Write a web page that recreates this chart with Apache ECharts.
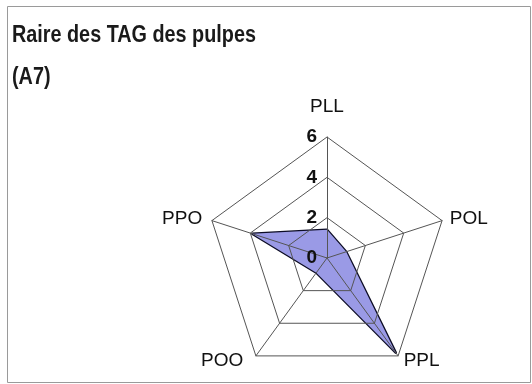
<!DOCTYPE html>
<html>
<head>
<meta charset="utf-8">
<script src="https://cdn.jsdelivr.net/npm/echarts@6/dist/echarts.min.js"></script>
<style>html,body{margin:0;padding:0;background:#fff}#c{width:532px;height:384px}</style>
</head>
<body>
<div id="c"></div>
<script>
// Indicators in ECharts (counter-clockwise) order starting at top
const indicatorNames = ['PLL', 'PPO', 'POO', 'PPL', 'POL'];
const values = [1.4, 3.9, 0.9, 5.8, 1.0];
const axisMax = 6;
const tickInterval = 2;
const titleLines = ['Raire des TAG des pulpes', '(A7)'];

// per-indicator label tweaks (style only)
const namePad = {
  PLL: [0, 0, 15, 0],
  PPO: [0, 4, 2, 0],
  POO: [0, 9, 10, 0],
  PPL: [0, 0, 10, 2],
  POL: [0, 0, 2, 2]
};

const titleFont = 'bold 24px "Liberation Sans", Arial, sans-serif';

const chart = echarts.init(document.getElementById('c'));
chart.setOption({
  animation: false,
  backgroundColor: '#ffffff',
  graphic: [{
    type: 'rect',
    shape: { x: 7.5, y: 6.5, width: 523, height: 376 },
    style: { fill: 'none', stroke: '#9a9a9a', lineWidth: 1 },
    silent: true
  }, {
    type: 'text',
    x: 12, y: 23,
    scaleX: 0.825,
    style: { text: titleLines[0], font: titleFont, fill: '#1a1a1a', verticalAlign: 'top' },
    silent: true
  }, {
    type: 'text',
    x: 12, y: 65,
    scaleX: 0.825,
    style: { text: titleLines[1], font: titleFont, fill: '#1a1a1a', verticalAlign: 'top' },
    silent: true
  }],
  radar: {
    z: 3,
    center: [327, 258],
    radius: 121,
    startAngle: 90,
    splitNumber: axisMax / tickInterval,
    shape: 'polygon',
    axisNameGap: 6,
    axisName: {
      color: '#111',
      fontFamily: '"Liberation Sans", Arial, sans-serif',
      fontSize: 19
    },
    indicator: indicatorNames.map((n, i) => ({
      name: n,
      min: 0,
      max: axisMax,
      nameTextStyle: { padding: namePad[n] },
      axisLabel: { show: i === 0 }
    })),
    axisLine: { lineStyle: { color: '#555', width: 1 } },
    splitLine: { lineStyle: { color: '#555', width: 1 } },
    splitArea: { show: false },
    axisTick: { show: false },
    axisLabel: {
      show: true,
      color: '#111',
      fontWeight: 'bold',
      fontSize: 19,
      fontFamily: '"Liberation Sans", Arial, sans-serif',
      margin: 10,
      showMinLabel: true,
      showMaxLabel: true
    }
  },
  series: [{
    type: 'radar',
    z: 1,
    symbol: 'none',
    lineStyle: { color: '#0c0c24', width: 2.5 },
    areaStyle: { color: '#9a9ae6', opacity: 1 },
    data: [{ value: values, name: 'A7' }]
  }]
});
</script>
</body>
</html>
